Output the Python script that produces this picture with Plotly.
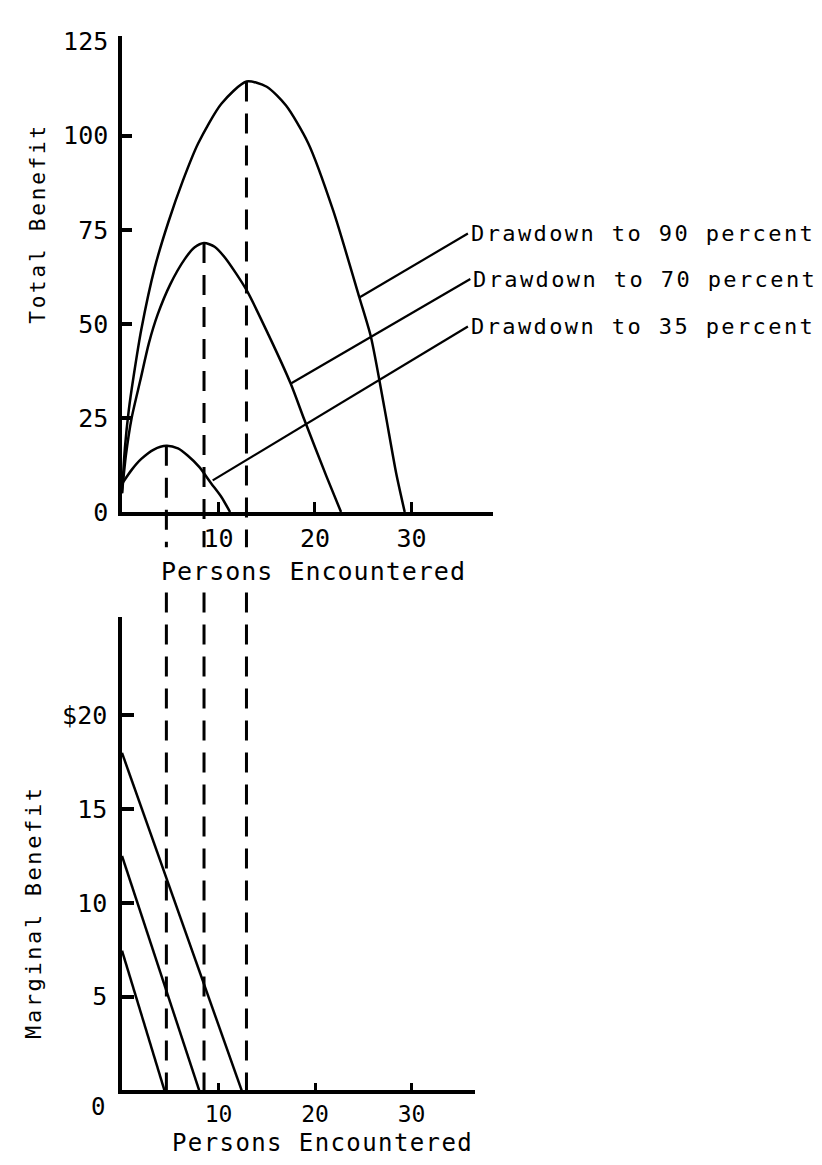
import plotly.graph_objects as go

W, H = 822, 1165

# ---------------- data ----------------
# Total benefit curves (upper panel)
tb90_x = [0, 0.3, 0.7, 1.2, 2.0, 3.4, 4.8, 6.3, 7.9, 10.3, 12.9, 15.0, 17.0, 19.3, 21.9, 24.6, 25.8, 27.2, 28.4, 29.3]
tb90_y = [5, 17, 27, 36, 48.5, 65, 77, 88, 98, 108.5, 114.4, 113, 108, 98, 80, 57, 46.5, 27.6, 10.5, 0]

tb70_x = [0, 0.4, 1.0, 1.9, 2.8, 3.7, 5.0, 6.5, 7.5, 8.5, 9.6, 10.7, 12.9, 15.2, 17.5, 18.9, 21.2, 22.7]
tb70_y = [5, 15, 25, 35, 45, 52.5, 60.5, 67.2, 70.3, 71.5, 70.5, 67.5, 59, 47, 34, 24.5, 9.4, 0]

tb35_x = [0, 1.0, 2.0, 3.3, 4.6, 5.8, 6.8, 8.0, 9.25, 10.3, 11.2]
tb35_y = [7.5, 11.2, 14.1, 16.6, 17.6, 16.9, 15.0, 12.0, 7.6, 4.0, 0]

# Marginal benefit lines (lower panel)
mb90_x, mb90_y = [0, 12.4], [18.0, 0]
mb70_x, mb70_y = [0, 8.0], [12.5, 0]
mb35_x, mb35_y = [0, 4.4], [7.45, 0]

# Peaks (dashed drop lines)
peak_x = [4.6, 8.5, 12.9]
peak_y = [17.6, 71.5, 114.4]

# Leader lines: point on curve -> label
labels = ["Drawdown to 90 percent", "Drawdown to 70 percent", "Drawdown to 35 percent"]
leader_x0 = [24.6, 17.55, 9.4]
leader_y0 = [57.0, 34.2, 8.4]
leader_x1 = [35.85, 36.1, 35.85]
leader_y1 = [74.0, 61.9, 49.3]

# Ticks
tb_tickvals = [0, 25, 50, 75, 100, 125]
tb_ticktext = ["0", "25", "50", "75", "100", "125"]
tb_tickmarks = [25, 50, 75, 100]
x_tickvals = [10, 20, 30]
x_ticktext = ["10", "20", "30"]
mb_tickvals = [5, 10, 15, 20]
mb_ticktext = ["5", "10", "15", "$20"]

# ---------------- layout geometry ----------------
TOP_X = [114 / W, 485 / W]
TOP_Y = [1 - 506 / H, 1 - 20 / H]
BOT_X = [114 / W, 467 / W]
BOT_Y = [1 - 1096 / H, 1 - 613 / H]
TOP_XR = [0, 38.45]
TOP_YR = [0, 126.6]
BOT_XR = [0, 36.58]
BOT_YR = [0, 25.25]

FONT = "DejaVu Sans Mono"
BLACK = "black"


def spaced(t, ls):
    return f'<span style="letter-spacing:{ls}px">{t}</span>'


fig = go.Figure()

for xs, ys in [(tb90_x, tb90_y), (tb70_x, tb70_y), (tb35_x, tb35_y)]:
    fig.add_trace(go.Scatter(x=xs, y=ys, mode="lines",
                             line=dict(color=BLACK, width=2.5, shape="spline", smoothing=0.7),
                             xaxis="x", yaxis="y", showlegend=False, hoverinfo="skip"))

for i in range(3):
    fig.add_trace(go.Scatter(x=[leader_x0[i], leader_x1[i]], y=[leader_y0[i], leader_y1[i]],
                             mode="lines", line=dict(color=BLACK, width=2.2),
                             xaxis="x", yaxis="y", showlegend=False, hoverinfo="skip"))

for xs, ys in [(mb90_x, mb90_y), (mb70_x, mb70_y), (mb35_x, mb35_y)]:
    fig.add_trace(go.Scatter(x=xs, y=ys, mode="lines", line=dict(color=BLACK, width=2.5),
                             xaxis="x2", yaxis="y2", showlegend=False, hoverinfo="skip"))

# dashed drop lines (through both panels, with a gap at the axis title)
gap_top = 1 - 542 / H
gap_bot = 1 - 588 / H
for px, py in zip(peak_x, peak_y):
    y_paper = TOP_Y[0] + (py - TOP_YR[0]) / (TOP_YR[1] - TOP_YR[0]) * (TOP_Y[1] - TOP_Y[0])
    fig.add_shape(type="line", xref="x", yref="paper", x0=px, x1=px, y0=y_paper, y1=gap_top,
                  line=dict(color=BLACK, width=3, dash="20px,12px"))
    fig.add_shape(type="line", xref="x", yref="paper", x0=px, x1=px, y0=gap_bot, y1=BOT_Y[0],
                  line=dict(color=BLACK, width=3, dash="20px,12px"))

# curve labels
for i in range(3):
    fig.add_annotation(x=leader_x1[i], y=leader_y1[i], xref="x", yref="y",
                       text=spaced(labels[i], 2.4), showarrow=False,
                       xanchor="left", yanchor="middle", xshift=1,
                       font=dict(family=FONT, size=22, color=BLACK))

# axis titles
fig.add_annotation(x=30 / W, y=1 - 212 / H, xref="paper", yref="paper", text=spaced("Total Benefit", 2.8),
                   textangle=-90, showarrow=False, xanchor="center", yanchor="middle",
                   font=dict(family=FONT, size=21, color=BLACK))
fig.add_annotation(x=26 / W, y=1 - 914 / H, xref="paper", yref="paper", text=spaced("Marginal Benefit", 2.6),
                   textangle=-90, showarrow=False, xanchor="center", yanchor="middle",
                   font=dict(family=FONT, size=22, color=BLACK))
fig.add_annotation(x=305 / W, y=1 - 567 / H, xref="paper", yref="paper", text=spaced("Persons Encountered", 1.0),
                   showarrow=False, xanchor="center", yanchor="middle",
                   font=dict(family=FONT, size=25, color=BLACK))
fig.add_annotation(x=314 / W, y=1 - 1150 / H, xref="paper", yref="paper", text=spaced("Persons Encountered", 1.4),
                   showarrow=False, xanchor="center", yanchor="middle",
                   font=dict(family=FONT, size=24, color=BLACK))
# origin label of lower panel
fig.add_annotation(x=0, y=0, xref="x2", yref="y2", text="0", showarrow=False,
                   xanchor="center", yanchor="middle", xshift=-24, yshift=-17,
                   font=dict(family=FONT, size=24, color=BLACK))

tickfont = dict(family=FONT, size=25, color=BLACK)
axis_common = dict(showline=True, linecolor=BLACK, linewidth=3.5, showgrid=False, zeroline=False,
                   fixedrange=True)

fig.update_layout(
    width=W, height=H, autosize=False,
    margin=dict(l=0, r=0, t=0, b=0),
    paper_bgcolor="white", plot_bgcolor="white",
    showlegend=False,
    xaxis=dict(domain=TOP_X, range=TOP_XR, anchor="y", tickmode="array",
               tickvals=x_tickvals, ticktext=x_ticktext, ticks="inside", ticklen=10,
               tickwidth=3, tickcolor=BLACK, ticklabelstandoff=1, tickfont=tickfont, **axis_common),
    yaxis=dict(domain=TOP_Y, range=TOP_YR, anchor="x", tickmode="array",
               tickvals=tb_tickvals, ticktext=tb_ticktext, ticks="", ticklabelstandoff=5,
               minor=dict(tickmode="array", tickvals=tb_tickmarks, ticks="inside", ticklen=10,
                          tickwidth=3.5, tickcolor=BLACK, showgrid=False),
               tickfont=tickfont, **axis_common),
    xaxis2=dict(domain=BOT_X, range=BOT_XR, anchor="y2", tickmode="array",
                tickvals=x_tickvals, ticktext=x_ticktext, ticks="inside", ticklen=8,
                tickwidth=3, tickcolor=BLACK, ticklabelstandoff=0,
                tickfont=dict(family=FONT, size=23, color=BLACK), **axis_common),
    yaxis2=dict(domain=BOT_Y, range=BOT_YR, anchor="x2", tickmode="array",
                tickvals=mb_tickvals, ticktext=mb_ticktext, ticks="inside", ticklen=12,
                tickwidth=3.5, tickcolor=BLACK, ticklabelstandoff=6, tickfont=tickfont, **axis_common),
)

fig.write_html("out.html")
